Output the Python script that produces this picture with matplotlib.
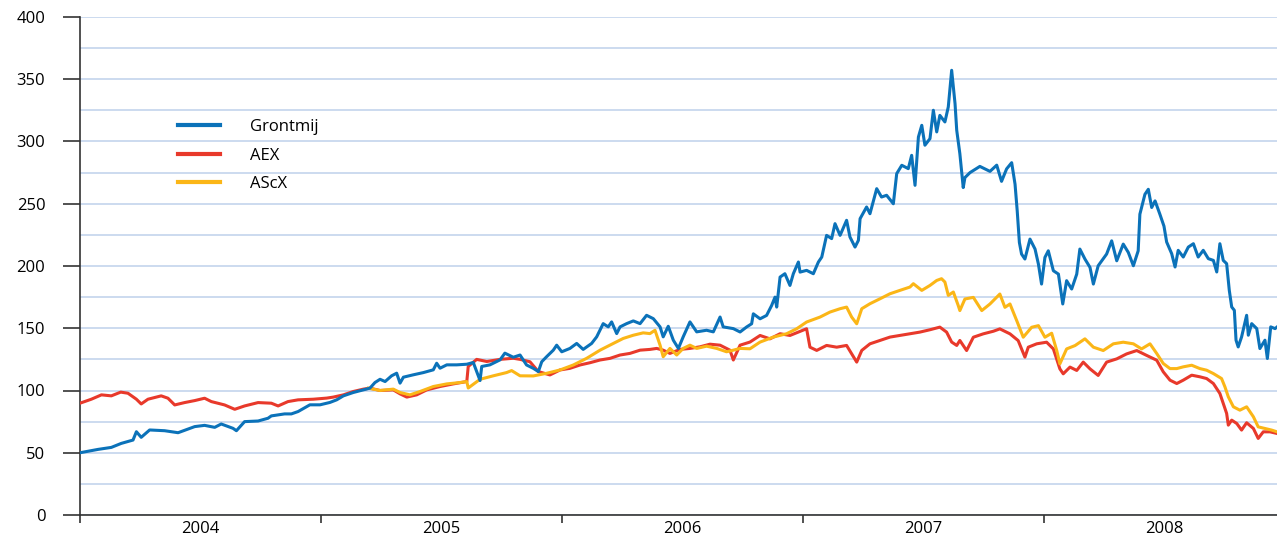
import matplotlib
matplotlib.use('Agg')
from matplotlib import pyplot as plt
from matplotlib.ticker import MultipleLocator, FixedLocator, NullFormatter
import numpy as np

plt.rcParams['font.family'] = ['Open Sans', 'DejaVu Sans']

# time in decimal years, values indexed
grontmij_t = [0.000, 0.075, 0.130, 0.171, 0.220, 0.234, 0.254, 0.289, 0.351, 0.407,
              0.476, 0.517, 0.559, 0.586, 0.635, 0.649, 0.683, 0.739, 0.780, 0.794,
              0.849, 0.877, 0.905, 0.954, 0.996, 1.037, 1.065, 1.093, 1.134, 1.176,
              1.203, 1.224, 1.245, 1.266, 1.293, 1.314, 1.328, 1.342, 1.383, 1.425,
              1.466, 1.480, 1.494, 1.522, 1.563, 1.605, 1.632, 1.660, 1.667, 1.701,
              1.743, 1.763, 1.798, 1.826, 1.853, 1.881, 1.902, 1.916, 1.936, 1.964,
              1.978, 1.999, 2.033, 2.061, 2.088, 2.123, 2.144, 2.171, 2.192, 2.206,
              2.227, 2.241, 2.268, 2.296, 2.324, 2.351, 2.379, 2.407, 2.420, 2.441,
              2.462, 2.483, 2.503, 2.531, 2.559, 2.600, 2.628, 2.656, 2.669, 2.711,
              2.739, 2.766, 2.787, 2.794, 2.822, 2.849, 2.870, 2.884, 2.891, 2.905,
              2.925, 2.946, 2.960, 2.981, 2.988, 3.015, 3.043, 3.064, 3.078, 3.098,
              3.119, 3.133, 3.154, 3.181, 3.195, 3.216, 3.230, 3.237, 3.264, 3.278,
              3.306, 3.326, 3.347, 3.375, 3.389, 3.410, 3.437, 3.451, 3.465, 3.479,
              3.493, 3.506, 3.527, 3.541, 3.555, 3.568, 3.589, 3.603, 3.617, 3.631,
              3.638, 3.651, 3.665, 3.672, 3.693, 3.734, 3.776, 3.804, 3.824, 3.845,
              3.866, 3.880, 3.889, 3.898, 3.907, 3.921, 3.942, 3.963, 3.977, 3.990,
              4.004, 4.018, 4.039, 4.060, 4.078, 4.094, 4.115, 4.136, 4.149, 4.170,
              4.191, 4.205, 4.225, 4.260, 4.281, 4.302, 4.329, 4.350, 4.371, 4.391,
              4.398, 4.419, 4.433, 4.447, 4.461, 4.481, 4.498, 4.509, 4.530, 4.544,
              4.557, 4.578, 4.599, 4.620, 4.640, 4.661, 4.682, 4.703, 4.717, 4.730,
              4.744, 4.758, 4.769, 4.779, 4.790, 4.797, 4.806, 4.820, 4.841, 4.848,
              4.862, 4.883, 4.896, 4.917, 4.927, 4.941, 4.959, 4.967]
grontmij = [50, 52.7, 54.3, 57.5, 60.2, 66.9, 62.4, 68.3, 67.7, 66.1,
            71, 72, 70.4, 73.1, 69.6, 67.7, 75, 75.5, 77.7, 79.6,
            81.2, 81.2, 83.1, 88.5, 88.5, 90.4, 92.5, 95.7, 98.4, 100.5,
            101.9, 106.4, 109, 107.2, 111.8, 113.9, 105.9, 110.7, 112.6, 114.4,
            116.6, 121.9, 117.9, 120.6, 120.6, 121.1, 122.5, 108, 119.3, 120.6,
            124.6, 130, 126.7, 128.5, 120.5, 117.8, 115.2, 123.1, 127.1, 132.4,
            136.4, 131.1, 133.8, 137.8, 133, 137.8, 143.1, 153.7, 151.1, 155.1,
            145.7, 151.1, 153.7, 155.9, 153.7, 160.4, 157.7, 151.1, 143.1, 151.6,
            140.4, 133.8, 143.1, 155.1, 147.1, 148.4, 147.1, 159, 151.1, 149.7,
            147, 151, 153.6, 161.6, 157.6, 160.3, 168.3, 175, 167, 191.1,
            193.8, 184.4, 193.8, 203.2, 195.1, 196.5, 193.8, 203.2, 207.2, 224.6,
            222, 234, 224.6, 236.7, 223.3, 215.2, 220.6, 238, 247.4, 242,
            262.1, 255.4, 256.8, 250, 274.2, 280.9, 278.2, 288.9, 264.8, 303.6,
            313, 297, 302.3, 325.1, 307.7, 321, 315.7, 327.8, 357.2, 330.4,
            309, 290.2, 263, 271, 275, 280, 276, 281, 268, 278,
            283, 265.7, 244.3, 218.9, 209.6, 205.6, 221.6, 213.6, 201.5, 185.5,
            206.9, 212.2, 196.2, 193.5, 169.5, 188.2, 181.5, 193.5, 213.6, 205.6,
            198.9, 185.5, 200.2, 209.6, 220.2, 204.2, 217.6, 210.9, 200.2, 212.2,
            241.6, 257.6, 261.6, 247, 252.3, 241.6, 232, 219.3, 209.9, 199.2,
            212.6, 207.2, 215.2, 217.9, 207.2, 212.6, 205.9, 204.5, 195.2, 217.9,
            204.5, 201.9, 180.5, 167.1, 164.4, 140.4, 135, 143, 160.4, 144.4,
            153.7, 149.7, 133.7, 140.4, 125.7, 151.1, 149.7, 151]

aex_t = [0.000, 0.047, 0.089, 0.130, 0.169, 0.199, 0.234, 0.254, 0.282, 0.337,
         0.365, 0.393, 0.434, 0.476, 0.517, 0.545, 0.600, 0.642, 0.683, 0.739,
         0.794, 0.822, 0.863, 0.905, 0.968, 1.024, 1.051, 1.093, 1.134, 1.176,
         1.203, 1.245, 1.300, 1.328, 1.356, 1.397, 1.439, 1.494, 1.549, 1.605,
         1.611, 1.646, 1.688, 1.743, 1.798, 1.826, 1.867, 1.902, 1.950, 1.992,
         2.033, 2.075, 2.116, 2.158, 2.199, 2.241, 2.282, 2.324, 2.365, 2.393,
         2.420, 2.448, 2.490, 2.531, 2.573, 2.614, 2.656, 2.697, 2.711, 2.739,
         2.780, 2.822, 2.863, 2.905, 2.946, 2.981, 3.015, 3.029, 3.057, 3.098,
         3.140, 3.181, 3.202, 3.223, 3.244, 3.278, 3.320, 3.361, 3.402, 3.444,
         3.485, 3.527, 3.568, 3.596, 3.617, 3.638, 3.651, 3.679, 3.707, 3.748,
         3.790, 3.817, 3.859, 3.893, 3.921, 3.935, 3.970, 4.011, 4.039, 4.066,
         4.080, 4.108, 4.136, 4.163, 4.191, 4.225, 4.260, 4.302, 4.343, 4.385,
         4.427, 4.468, 4.495, 4.523, 4.551, 4.578, 4.613, 4.647, 4.675, 4.703,
         4.730, 4.744, 4.758, 4.765, 4.779, 4.800, 4.820, 4.841, 4.869, 4.889,
         4.910, 4.938, 4.967]
aex = [89.8, 93, 96.5, 95.7, 98.7, 97.8, 93, 89.2, 93, 95.7,
       93.8, 88.4, 90.3, 91.9, 93.8, 91.1, 88.4, 84.9, 87.6, 90.3,
       89.8, 87.6, 91.1, 92.5, 93, 93.9, 94.7, 96.5, 99.2, 101.1,
       101.9, 100, 100.5, 97.3, 94.7, 96.5, 100.5, 103.2, 105.3, 107.2,
       119.3, 125, 123.3, 125, 125.9, 125, 123.1, 115.2, 112.5, 116.5,
       117.8, 120.5, 122.3, 124.5, 125.8, 128.5, 129.8, 132.4, 133, 133.8,
       132.4, 129.8, 133, 133.8, 135.1, 137.2, 136.4, 132.4, 124.5, 136.4,
       138.9, 144.2, 141.5, 145.6, 144.2, 146.9, 149.6, 134.8, 132.2, 136.2,
       134.8, 136.2, 129.5, 122.8, 132.2, 137.5, 140.2, 142.9, 144.2, 145.6,
       146.9, 148.8, 150.9, 146.9, 138.9, 136.2, 140.2, 132.1, 142.8, 145.5,
       147.6, 149.5, 145.5, 140.1, 126.8, 134.8, 137.5, 138.8, 133.4, 117.4,
       113.4, 118.8, 116.1, 122.8, 117.4, 112.1, 122.8, 125.4, 129.4, 132.1,
       128.1, 124.3, 115, 108.3, 105.6, 108.3, 112.3, 111, 109.6, 105.6,
       97.6, 89.6, 81.6, 72.2, 76.2, 73.5, 68.2, 74.1, 69.5, 61.5,
       66.8, 66.8, 65.5]

ascx_t = [1.196, 1.245, 1.300, 1.328, 1.369, 1.411, 1.466, 1.522, 1.577, 1.605,
          1.611, 1.660, 1.715, 1.770, 1.791, 1.826, 1.881, 1.936, 1.992, 2.047,
          2.102, 2.158, 2.213, 2.254, 2.296, 2.337, 2.365, 2.386, 2.407, 2.420,
          2.448, 2.476, 2.503, 2.531, 2.559, 2.600, 2.642, 2.683, 2.711, 2.739,
          2.780, 2.822, 2.877, 2.932, 2.974, 3.015, 3.071, 3.112, 3.154, 3.181,
          3.202, 3.223, 3.244, 3.278, 3.320, 3.361, 3.402, 3.444, 3.458, 3.493,
          3.527, 3.555, 3.575, 3.589, 3.603, 3.624, 3.644, 3.651, 3.672, 3.707,
          3.742, 3.776, 3.817, 3.838, 3.859, 3.887, 3.914, 3.949, 3.977, 4.004,
          4.032, 4.053, 4.066, 4.094, 4.129, 4.170, 4.205, 4.246, 4.288, 4.329,
          4.371, 4.405, 4.440, 4.468, 4.495, 4.523, 4.551, 4.578, 4.613, 4.647,
          4.675, 4.703, 4.737, 4.751, 4.765, 4.786, 4.813, 4.841, 4.869, 4.889,
          4.917, 4.945, 4.967]
ascx = [101.9, 100, 101.1, 98.4, 96.5, 99.2, 103.2, 105.3, 106.4, 107.2,
        102, 109, 111.8, 114.4, 116, 111.8, 111.7, 113.8, 116.5, 120.5,
        125.8, 132.4, 137.8, 141.8, 144.4, 146.3, 145.7, 148.4, 136.4, 127.1,
        133.8, 128.5, 133.8, 136.4, 133.8, 135.6, 133.8, 131.1, 132.4, 133.8,
        133.5, 138.9, 142.9, 145.6, 149.6, 155, 159, 163, 165.7, 167,
        159, 153.6, 165.7, 169.7, 173.7, 177.7, 180.4, 183.1, 185.8, 180.4,
        184.4, 188.4, 189.8, 187.1, 176.4, 179.1, 168.4, 164.2, 173.5, 174.8,
        164.2, 169.5, 177.5, 166.8, 169.5, 156.1, 142.8, 150.8, 152.1, 142.8,
        146, 132.1, 121.4, 133.4, 136.1, 141.5, 134.8, 132.1, 137.5, 138.8,
        137.5, 133.4, 137.5, 129.7, 121.7, 117.6, 117.6, 119, 120.3, 117.6,
        116.3, 113.6, 109.6, 102.9, 94.9, 86.9, 84.2, 86.9, 78.9, 70.8,
        69.5, 68.2, 66.8]

years = [2004, 2005, 2006, 2007, 2008]
labels = ['Grontmij', 'AEX', 'AScX']
colors = ['#0b72b9', '#e8392b', '#fbb617']

fig = plt.figure(figsize=(12.77, 5.40), dpi=100)
ax = fig.add_axes([80 / 1277, 25 / 540, 1197 / 1277, 498 / 540])

start = years[0]
l2, = ax.plot(np.array(aex_t) + start, aex, color=colors[1], lw=2.2, zorder=3)
l3, = ax.plot(np.array(ascx_t) + start, ascx, color=colors[2], lw=2.2, zorder=3)
l1, = ax.plot(np.array(grontmij_t) + start, grontmij, color=colors[0], lw=2.2, zorder=4)

ax.set_xlim(2004, 2008.967)
ax.set_ylim(0, 400)

ax.yaxis.set_major_locator(MultipleLocator(50))
ax.yaxis.set_minor_locator(MultipleLocator(25))
ax.grid(True, which='both', axis='y', color='#c3d4ec', lw=1.2, zorder=0)
ax.set_axisbelow(True)

ax.xaxis.set_major_locator(FixedLocator(years))
ax.xaxis.set_major_formatter(NullFormatter())
ax.xaxis.set_minor_locator(FixedLocator([y + 0.5 for y in years]))
ax.set_xticklabels([str(y) for y in years], minor=True)

ax.tick_params(axis='y', which='major', length=12, width=1.2, pad=13,
               labelsize=12, color='#333333')
ax.tick_params(axis='y', which='minor', length=0)
ax.tick_params(axis='x', which='major', length=6, width=1.2, color='#333333')
ax.tick_params(axis='x', which='minor', length=0, pad=4, labelsize=12)

for s in ['top', 'right']:
    ax.spines[s].set_visible(False)
for s in ['left', 'bottom']:
    ax.spines[s].set_color('#333333')
    ax.spines[s].set_linewidth(1.2)

ax.legend([l1, l2, l3], labels, loc='upper left', bbox_to_anchor=(0.082, 0.795),
          frameon=False, fontsize=12, handlelength=2.5, handletextpad=1.8,
          labelspacing=0.75, borderpad=0, borderaxespad=0)
for h in ax.get_legend().get_lines():
    h.set_linewidth(3)

fig.savefig('out.png', dpi=100, facecolor='white')
